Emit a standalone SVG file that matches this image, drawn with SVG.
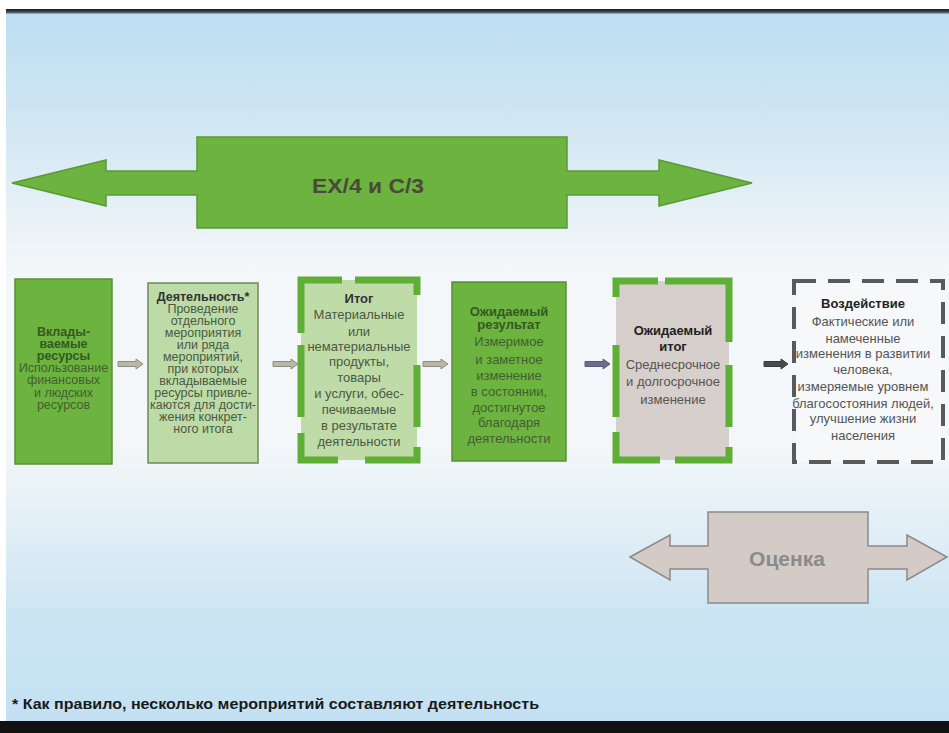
<svg xmlns="http://www.w3.org/2000/svg" width="949" height="733" viewBox="0 0 949 733">
<defs>
<linearGradient id="bg" x1="0" y1="0" x2="0" y2="1">
<stop offset="0" stop-color="#bddef2"/>
<stop offset="0.15" stop-color="#cfe6f3"/>
<stop offset="0.3" stop-color="#eaf2f7"/>
<stop offset="0.37" stop-color="#f4f7f9"/>
<stop offset="0.6" stop-color="#f4f7f9"/>
<stop offset="0.72" stop-color="#e3eff6"/>
<stop offset="0.85" stop-color="#cce5f3"/>
<stop offset="1" stop-color="#c3e1f3"/>
</linearGradient>
<linearGradient id="topline" x1="0" y1="0" x2="0" y2="1">
<stop offset="0" stop-color="#1a1a1a"/>
<stop offset="0.6" stop-color="#3a4a55"/>
<stop offset="1" stop-color="#9cc4dc"/>
</linearGradient>
</defs>
<style>
.t{font-family:"Liberation Sans",Arial,sans-serif;text-anchor:middle;font-size:13px}
.s{font-size:12.5px}
.b{font-weight:bold}
.g1{fill:#355a1f}
.g2{fill:#425f32}
.d1{fill:#333333}
.d2{fill:#4c5844}
.n1{fill:#222222}
.n2{fill:#555555}
.dark{fill:#6cb33f;stroke:#5a8f3a;stroke-width:1.5}
.light{fill:#bfdca8}
.gdash{fill:none;stroke:#5fae36;stroke-width:7;stroke-linecap:butt}
.sa{fill:#b8b8a8;stroke:#8e8e80;stroke-width:1}
</style>
<rect x="0" y="0" width="949" height="733" fill="#ffffff"/>
<rect x="6" y="12" width="943" height="709" fill="url(#bg)"/>
<rect x="6" y="9" width="943" height="5" fill="url(#topline)"/>
<rect x="0" y="721" width="949" height="12" fill="#111111"/>

<g id="ex4c3">
<polygon points="12,183 106,160 106,171 197,171 197,137 567,137 567,171 659,171 659,160 752,183 659,206 659,195 567,195 567,228 197,228 197,195 106,195 106,206" fill="#6cb33f" stroke="#5a9a35" stroke-width="1.5"/>
<text x="368" y="193" class="t b" style="font-size:20px;fill:#4a4a3a" textLength="112" lengthAdjust="spacingAndGlyphs">EX/4 и C/3</text>
</g>

<g id="inputs">
<rect x="15" y="279" width="97" height="185" class="dark"/>
<text class="t s b g1" x="63.5" y="335.5">Вклады-</text>
<text class="t s b g1" x="63.5" y="347.5">ваемые</text>
<text class="t s b g1" x="63.5" y="359.5">ресурсы</text>
<text class="t s g2" x="63.5" y="371.5">Использование</text>
<text class="t s g2" x="63.5" y="384">финансовых</text>
<text class="t s g2" x="63.5" y="396.5">и людских</text>
<text class="t s g2" x="63.5" y="408.5">ресурсов</text>
</g>

<g id="activity">
<rect x="148" y="283" width="110" height="180" fill="#bddba6" stroke="#6e8a5e" stroke-width="1.5"/>
<text class="t s b d1" x="203" y="300.5">Деятельность*</text>
<text class="t s d2" x="203" y="312.5">Проведение</text>
<text class="t s d2" x="203" y="324.5">отдельного</text>
<text class="t s d2" x="203" y="336.5">мероприятия</text>
<text class="t s d2" x="203" y="348.5">или ряда</text>
<text class="t s d2" x="203" y="360.5">мероприятий,</text>
<text class="t s d2" x="203" y="372.5">при которых</text>
<text class="t s d2" x="203" y="384.5">вкладываемые</text>
<text class="t s d2" x="203" y="397">ресурсы привле-</text>
<text class="t s d2" x="203" y="409">каются для дости-</text>
<text class="t s d2" x="203" y="421">жения конкрет-</text>
<text class="t s d2" x="203" y="433">ного итога</text>
</g>

<g id="output">
<rect x="301" y="280" width="116" height="180" class="light"/>
<path class="gdash" d="M301,333 V280 H342 M355,280 H417 V295 M417,365 V427 M417,447 V460 H365 M338,460 H301 V433 M301,417 V345"/>
<text class="t b d1" x="359" y="303">Итог</text>
<text class="t d2" x="359" y="319">Материальные</text>
<text class="t d2" x="359" y="336">или</text>
<text class="t d2" x="359" y="351">нематериальные</text>
<text class="t d2" x="359" y="366">продукты,</text>
<text class="t d2" x="359" y="382">товары</text>
<text class="t d2" x="359" y="398">и услуги, обес-</text>
<text class="t d2" x="359" y="414">печиваемые</text>
<text class="t d2" x="359" y="430">в результате</text>
<text class="t d2" x="359" y="446">деятельности</text>
</g>

<g id="outcome">
<rect x="452" y="282" width="114" height="179" class="dark"/>
<text class="t b g1" x="509" y="315.5">Ожидаемый</text>
<text class="t b g1" x="509" y="329">результат</text>
<text class="t g2" x="509" y="345.5">Измеримое</text>
<text class="t g2" x="509" y="364">и заметное</text>
<text class="t g2" x="509" y="380">изменение</text>
<text class="t g2" x="509" y="395.5">в состоянии,</text>
<text class="t g2" x="509" y="411.5">достигнутое</text>
<text class="t g2" x="509" y="427">благодаря</text>
<text class="t g2" x="509" y="442.5">деятельности</text>
</g>

<g id="expected">
<rect x="616" y="281" width="113" height="179" fill="#d6cfcb"/>
<path class="gdash" d="M616,297 V281 H658 M665,281 H729 V342 M729,365 V427 M729,447 V460 H675 M660,460 H616 V432 M616,417 V345"/>
<text class="t b n1" x="673" y="335">Ожидаемый</text>
<text class="t b n1" x="673" y="351">итог</text>
<text class="t n2" x="673" y="369">Среднесрочное</text>
<text class="t n2" x="673" y="386">и долгосрочное</text>
<text class="t n2" x="673" y="404">изменение</text>
</g>

<g id="impact">
<rect x="794" y="281" width="149" height="181" fill="#f6f8fa" stroke="#5a5a5a" stroke-width="4" stroke-dasharray="22 12"/>
<text class="t b n1" x="863" y="308">Воздействие</text>
<text class="t n2" x="863" y="326">Фактические или</text>
<text class="t n2" x="863" y="343">намеченные</text>
<text class="t n2" x="863" y="358">изменения в развитии</text>
<text class="t n2" x="863" y="374">человека,</text>
<text class="t n2" x="863" y="391">измеряемые уровнем</text>
<text class="t n2" x="863" y="408">благосостояния людей,</text>
<text class="t n2" x="863" y="423">улучшение жизни</text>
<text class="t n2" x="863" y="440">населения</text>
</g>

<g id="evaluation">
<polygon points="630,557 670,535 670,546 708,546 708,512 868,512 868,546 907,546 907,535 947,557 907,580 907,569 868,569 868,603 708,603 708,569 670,569 670,580" fill="#d4cbc6" stroke="#8a8a8a" stroke-width="1.5"/>
<text class="t b" x="787" y="566" style="font-size:21px;fill:#8a8a8a">Оценка</text>
</g>

<g id="connectors">
<polygon class="sa" points="118,361.5 136,361.5 136,359 143,364 136,369 136,366.5 118,366.5"/>
<polygon class="sa" points="273,361.5 291,361.5 291,359 298,364 291,369 291,366.5 273,366.5"/>
<polygon class="sa" points="423,361.5 441,361.5 441,359 448,364 441,369 441,366.5 423,366.5"/>
<polygon points="585,361.5 603,361.5 603,359 610,364 603,369 603,366.5 585,366.5" fill="#6f6b8c" stroke="#5e5a7a" stroke-width="1"/>
<polygon points="764,361.5 781,361.5 781,359 788,364 781,369 781,366.5 764,366.5" fill="#4a4a4a" stroke="#3a3a3a" stroke-width="1"/>
</g>

<text x="12" y="709" style="font-family:'Liberation Sans Narrow','Liberation Sans',Arial,sans-serif;font-weight:bold;font-size:14px;fill:#1a1a1a" textLength="527" lengthAdjust="spacingAndGlyphs">* Как правило, несколько мероприятий составляют деятельность</text>
</svg>
